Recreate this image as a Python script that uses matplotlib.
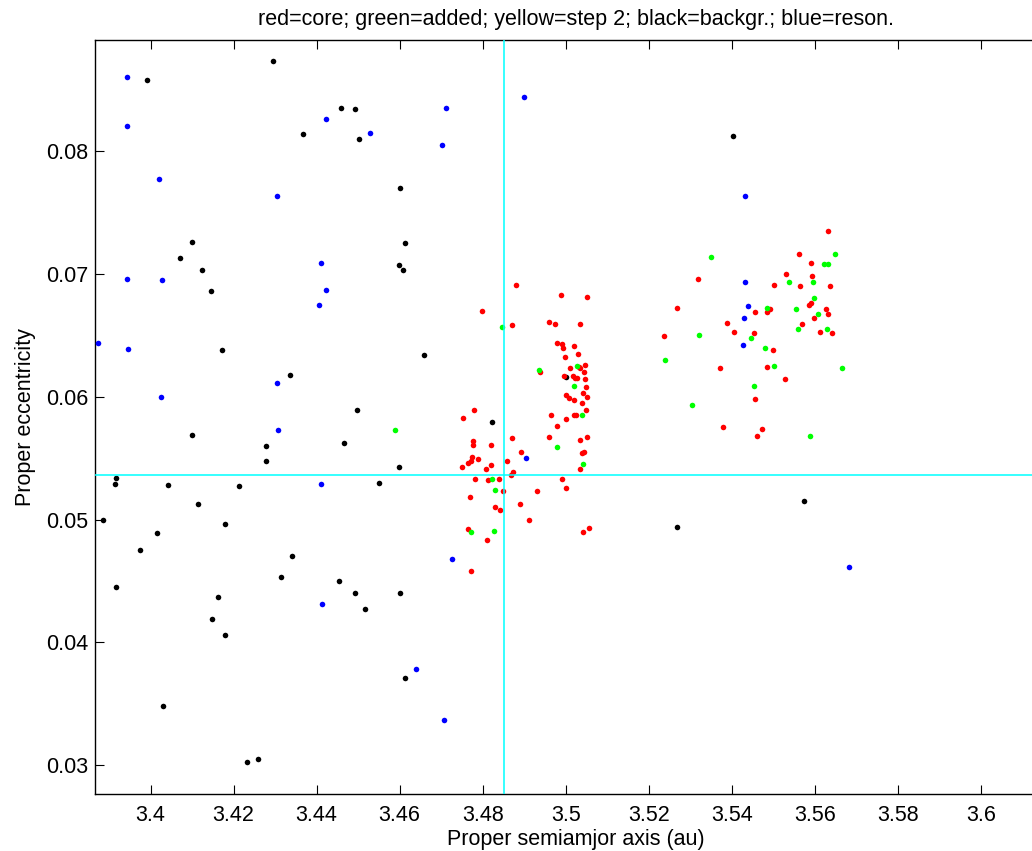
import matplotlib
matplotlib.use("Agg")
import matplotlib.pyplot as plt

plt.rcParams['font.family'] = ['Liberation Sans', 'DejaVu Sans']

# ---- data (proper semimajor axis a [au], proper eccentricity e) ----
black_a = [3.3992, 3.4295, 3.4458, 3.4493, 3.4368, 3.4502, 3.4600, 3.4100, 3.4071, 3.4123,
           3.4145, 3.4614, 3.4598, 3.4609, 3.5404, 3.5575, 3.5269, 3.5001, 3.4822, 3.4173,
           3.4337, 3.4659, 3.4498, 3.4100, 3.4465, 3.4278, 3.4278, 3.4598, 3.3916, 3.3915,
           3.4550, 3.4043, 3.4212, 3.4113, 3.3885, 3.4180, 3.4016, 3.3974, 3.4340, 3.4315,
           3.4455, 3.3916, 3.4492, 3.4600, 3.4162, 3.4517, 3.4149, 3.4180, 3.4614, 3.4030,
           3.4232, 3.4259]
black_e = [0.0858, 0.0873, 0.0835, 0.0834, 0.0814, 0.0810, 0.0770, 0.0726, 0.0713, 0.0703,
           0.0686, 0.0725, 0.0707, 0.0703, 0.0812, 0.0515, 0.0494, 0.0616, 0.0579, 0.0638,
           0.0618, 0.0634, 0.0589, 0.0569, 0.0562, 0.0560, 0.0548, 0.0543, 0.0534, 0.0529,
           0.0530, 0.0528, 0.0527, 0.0513, 0.0500, 0.0496, 0.0489, 0.0475, 0.0470, 0.0453,
           0.0450, 0.0445, 0.0440, 0.0440, 0.0437, 0.0427, 0.0419, 0.0406, 0.0371, 0.0348,
           0.0303, 0.0305]

blue_a = [3.3943, 3.3943, 3.4423, 3.4529, 3.4712, 3.4702, 3.4021, 3.4304, 3.3943, 3.4028,
          3.4410, 3.4422, 3.4900, 3.5431, 3.5432, 3.5440, 3.5430, 3.5427, 3.5683, 3.4406,
          3.3873, 3.3945, 3.4305, 3.4025, 3.4306, 3.4410, 3.4727, 3.4904, 3.4412, 3.4639,
          3.4706]
blue_e = [0.0860, 0.0820, 0.0826, 0.0815, 0.0835, 0.0805, 0.0777, 0.0763, 0.0696, 0.0695,
          0.0709, 0.0687, 0.0844, 0.0763, 0.0693, 0.0674, 0.0664, 0.0642, 0.0461, 0.0675,
          0.0644, 0.0639, 0.0611, 0.0600, 0.0573, 0.0529, 0.0468, 0.0550, 0.0431, 0.0378,
          0.0337]

red_a = [3.5633, 3.5562, 3.5591, 3.5530, 3.5594, 3.5503, 3.5565, 3.5638, 3.5320, 3.5268,
         3.5492, 3.5456, 3.5485, 3.5590, 3.5587, 3.5627, 3.5598, 3.5633, 3.5389, 3.5570,
         3.5614, 3.5641, 3.5238, 3.5406, 3.5454, 3.5500, 3.5372, 3.5484, 3.5528, 3.5457,
         3.5380, 3.5472, 3.5462,
         3.4880, 3.4989, 3.5051, 3.4798, 3.4871, 3.4960, 3.4974, 3.5035, 3.4980, 3.4992,
         3.4994, 3.5020, 3.5029, 3.4998, 3.5047, 3.5011, 3.5031, 3.5034, 3.5045, 3.4939,
         3.4996, 3.5017, 3.5022, 3.5027, 3.5047, 3.5049, 3.5042, 3.5000, 3.5009, 3.5021,
         3.5051, 3.5039, 3.5048, 3.5019, 3.5024, 3.5001, 3.4964, 3.4980, 3.4779, 3.4752,
         3.4871, 3.4960, 3.5035, 3.5052, 3.4776, 3.4777, 3.4819, 3.4892, 3.5039, 3.5045,
         3.5035, 3.4774, 3.4788, 3.4764, 3.4773, 3.4751, 3.4819, 3.4808, 3.4858, 3.4873,
         3.4869, 3.4781, 3.4814, 3.4840, 3.4990, 3.5001, 3.4849, 3.4932, 3.4769, 3.4890,
         3.4829, 3.4842, 3.4912, 3.4765, 3.4811, 3.5057, 3.5041, 3.4773]
red_e = [0.0735, 0.0716, 0.0709, 0.0700, 0.0698, 0.0691, 0.0690, 0.0690, 0.0696, 0.0672,
         0.0671, 0.0669, 0.0669, 0.0676, 0.0675, 0.0671, 0.0664, 0.0667, 0.0660, 0.0659,
         0.0653, 0.0652, 0.0649, 0.0653, 0.0652, 0.0638, 0.0623, 0.0624, 0.0614, 0.0598,
         0.0575, 0.0574, 0.0568,
         0.0691, 0.0683, 0.0681, 0.0670, 0.0658, 0.0661, 0.0659, 0.0659, 0.0644, 0.0643,
         0.0640, 0.0641, 0.0635, 0.0632, 0.0626, 0.0623, 0.0624, 0.0623, 0.0620, 0.0620,
         0.0617, 0.0617, 0.0615, 0.0615, 0.0614, 0.0608, 0.0603, 0.0601, 0.0599, 0.0597,
         0.0600, 0.0595, 0.0589, 0.0585, 0.0585, 0.0582, 0.0585, 0.0576, 0.0589, 0.0583,
         0.0566, 0.0567, 0.0565, 0.0567, 0.0564, 0.0561, 0.0561, 0.0555, 0.0554, 0.0555,
         0.0541, 0.0551, 0.0549, 0.0546, 0.0548, 0.0543, 0.0544, 0.0541, 0.0548, 0.0539,
         0.0536, 0.0533, 0.0532, 0.0533, 0.0533, 0.0526, 0.0523, 0.0523, 0.0518, 0.0513,
         0.0510, 0.0508, 0.0500, 0.0492, 0.0483, 0.0493, 0.0490, 0.0458]

green_a = [3.5350, 3.5650, 3.5622, 3.5633, 3.5538, 3.5596, 3.5599, 3.5486, 3.5555, 3.5609,
           3.5629, 3.5561, 3.5321, 3.5446, 3.5480, 3.5240, 3.5503, 3.5667, 3.5454, 3.5304,
           3.5588, 3.4847, 3.5028, 3.4936, 3.5021, 3.5039, 3.4589, 3.4979, 3.5042, 3.4822,
           3.4830, 3.4772, 3.4827]
green_e = [0.0714, 0.0716, 0.0708, 0.0708, 0.0693, 0.0693, 0.0680, 0.0672, 0.0671, 0.0667,
           0.0655, 0.0655, 0.0650, 0.0648, 0.0640, 0.0630, 0.0625, 0.0623, 0.0609, 0.0593,
           0.0568, 0.0657, 0.0625, 0.0622, 0.0609, 0.0585, 0.0573, 0.0559, 0.0545, 0.0533,
           0.0524, 0.0490, 0.0491]

center_a = 3.4852
center_e = 0.05366

xticks = [3.40, 3.42, 3.44, 3.46, 3.48, 3.50, 3.52, 3.54, 3.56, 3.58, 3.60]
xticklabels = ['3.4', '3.42', '3.44', '3.46', '3.48', '3.5', '3.52', '3.54', '3.56', '3.58', '3.6']
yticks = [0.03, 0.04, 0.05, 0.06, 0.07, 0.08]
yticklabels = ['0.03', '0.04', '0.05', '0.06', '0.07', '0.08']

title = 'red=core; green=added; yellow=step 2; black=backgr.; blue=reson.'
xlabel = 'Proper semiamjor axis (au)'
ylabel = 'Proper eccentricity'

# ---- figure ----
W, H = 1032, 851
fig = plt.figure(figsize=(W / 100, H / 100), dpi=100)
left, right, top, bottom = 95, 1057, 40, 794.3
ax = fig.add_axes([left / W, 1 - bottom / H, (right - left) / W, (bottom - top) / H])

ms = 4.0
ax.plot(black_a, black_e, 'o', color='black', ms=ms, mew=0, zorder=3)
ax.plot(blue_a, blue_e, 'o', color='blue', ms=ms, mew=0, zorder=3)
ax.plot(red_a, red_e, 'o', color='red', ms=ms, mew=0, zorder=3)
ax.plot(green_a, green_e, 'o', color='#00ff00', ms=ms, mew=0, zorder=3)

ax.axvline(center_a, color='cyan', lw=1.1, zorder=4)
ax.axhline(center_e, color='cyan', lw=1.1, zorder=4)

ax.set_xlim(3.3866, 3.4 + (right - 150.7) / 4150)
ax.set_ylim(0.02764, 0.08903)

ax.set_xticks(xticks)
ax.set_xticklabels(xticklabels)
ax.set_yticks(yticks)
ax.set_yticklabels(yticklabels)
ax.tick_params(direction='in', length=6.5, width=0.8, labelsize=15.5,
               top=True, right=True)
ax.tick_params(axis='x', pad=7.5)
ax.tick_params(axis='y', pad=5)
for s in ax.spines.values():
    s.set_linewidth(1.0)

ax.set_title(title, fontsize=15.5, pad=11)
ax.set_xlabel(xlabel, fontsize=15.5, labelpad=2.5)
ax.set_ylabel(ylabel, fontsize=15.5, labelpad=7)

fig.savefig('out.png', dpi=100)
